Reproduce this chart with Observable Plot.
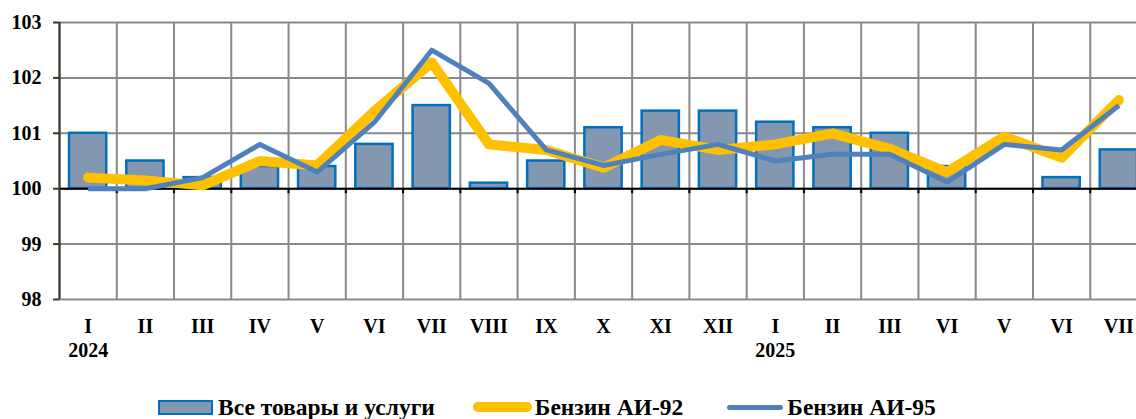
<!DOCTYPE html>
<html>
<head>
<meta charset="utf-8">
<script src="https://cdn.jsdelivr.net/npm/d3@7"></script>
<script src="https://cdn.jsdelivr.net/npm/@observablehq/plot@0.6"></script>
<style>
  html, body { margin: 0; padding: 0; background: #fff; overflow: hidden; }
  #chart svg { display: block; overflow: hidden; }
  .legend { display: flex; align-items: center; height: 44px; padding-top: 20px; padding-left: 158px; box-sizing: border-box;
            font-family: "Liberation Serif", "Times New Roman", serif; font-weight: bold; font-size: 23.5px; color: #000; white-space: nowrap; }
  .legend .item { display: flex; align-items: center; }
  .sw-box { width: 51px; height: 11px; background: #8497b0; border: 2px solid #0070c0; margin-right: 5px; }
  .sw-y { width: 59px; height: 10px; background: #ffc000; border-radius: 5px; margin-right: 3px; }
  .sw-b { width: 56px; height: 5px; background: #4f81bd; border-radius: 3px; margin-right: 4px; }
</style>
</head>
<body>
<div id="chart"></div>
<div class="legend">
  <div class="item" style="margin-right:38px"><span class="sw-box"></span><span id="l1"></span></div>
  <div class="item" style="margin-right:44px"><span class="sw-y"></span><span id="l2"></span></div>
  <div class="item"><span class="sw-b"></span><span id="l3"></span></div>
</div>
<script>
const monthLabels = ["I","II","III","IV","V","VI","VII","VIII","IX","X","XI","XII","I","II","III","VI","V","VI","VII"];
const yearIndex = [0, 12];
const yearLabels = ["2024", "2025"];
const seriesNames = ["Все товары и услуги", "Бензин АИ-92", "Бензин АИ-95"];
const allGoods = [101.0,100.5,100.2,100.4,100.4,100.8,101.5,100.1,100.5,101.1,101.4,101.4,101.2,101.1,101.0,100.4,100.0,100.2,100.7];
const ai92 = [100.2,100.15,100.06,100.5,100.42,101.4,102.28,100.8,100.7,100.38,100.88,100.7,100.8,101.0,100.72,100.3,100.94,100.56,101.6];
const ai95 = [100.0,100.0,100.2,100.8,100.3,101.2,102.5,101.9,100.7,100.42,100.62,100.8,100.5,100.62,100.62,100.12,100.8,100.7,101.5];
const yTicks = [98, 99, 100, 101, 102, 103];

document.getElementById("l1").textContent = seriesNames[0];
document.getElementById("l2").textContent = seriesNames[1];
document.getElementById("l3").textContent = seriesNames[2];

const data = monthLabels.map((m, i) => ({i, m, all: allGoods[i], a92: ai92[i], a95: ai95[i]}));
const bounds = d3.range(0, monthLabels.length + 1);
const centers = data.map(d => d.i + 0.5);

const chart = Plot.plot({
  width: 1136,
  height: 375,
  marginLeft: 59,
  marginRight: -11,
  marginTop: 22,
  marginBottom: 76,
  x: {domain: [0, monthLabels.length], axis: null},
  y: {domain: [98, 103], axis: null},
  style: {fontFamily: "'Liberation Serif', 'Times New Roman', serif", fontSize: "20px", fontWeight: "bold", color: "#000", background: "#fff"},
  marks: [
    Plot.gridX(bounds, {stroke: "#898989", strokeOpacity: 1, strokeWidth: 2}),
    Plot.gridY(yTicks, {stroke: "#898989", strokeOpacity: 1, strokeWidth: 2}),
    Plot.rectY(data, {x1: d => d.i, x2: d => d.i + 1, y1: 100, y2: "all", insetLeft: 10, insetRight: 10,
      fill: "#8497b0", stroke: "#0070c0", strokeWidth: 2.5}),
    Plot.ruleY([100], {stroke: "#000", strokeWidth: 2}),
    Plot.ruleX(bounds.slice(1, -1), {y1: 100, y2: 100, insetBottom: -5, stroke: "#000", strokeWidth: 2}),
    Plot.line(data, {x: d => d.i + 0.5, y: "a92", stroke: "#ffc000", strokeWidth: 10, strokeLinecap: "round", strokeLinejoin: "round"}),
    Plot.line(data, {x: d => d.i + 0.5, y: "a95", stroke: "#4f81bd", strokeWidth: 5, strokeLinecap: "butt", strokeLinejoin: "round"}),
    Plot.ruleX([0], {stroke: "#3b3626", strokeWidth: 2}),
    Plot.axisY({ticks: yTicks, anchor: "left", tickSize: 6, tickPadding: 12, stroke: "#3b3626", strokeWidth: 2,
      tickFormat: d => String(d), fontSize: 20, fontWeight: "bold", label: null}),
    Plot.axisX({ticks: centers, anchor: "bottom", tickSize: 0, tickPadding: 19,
      tickFormat: v => monthLabels[Math.round(v - 0.5)], fontSize: 20, fontWeight: "bold", label: null}),
    Plot.axisX({ticks: yearIndex.map(i => i + 0.5), anchor: "bottom", tickSize: 0, tickPadding: 43,
      tickFormat: v => yearLabels[yearIndex.indexOf(Math.round(v - 0.5))], fontSize: 20, fontWeight: "bold", label: null})
  ]
});
document.getElementById("chart").appendChild(chart);
</script>
</body>
</html>
